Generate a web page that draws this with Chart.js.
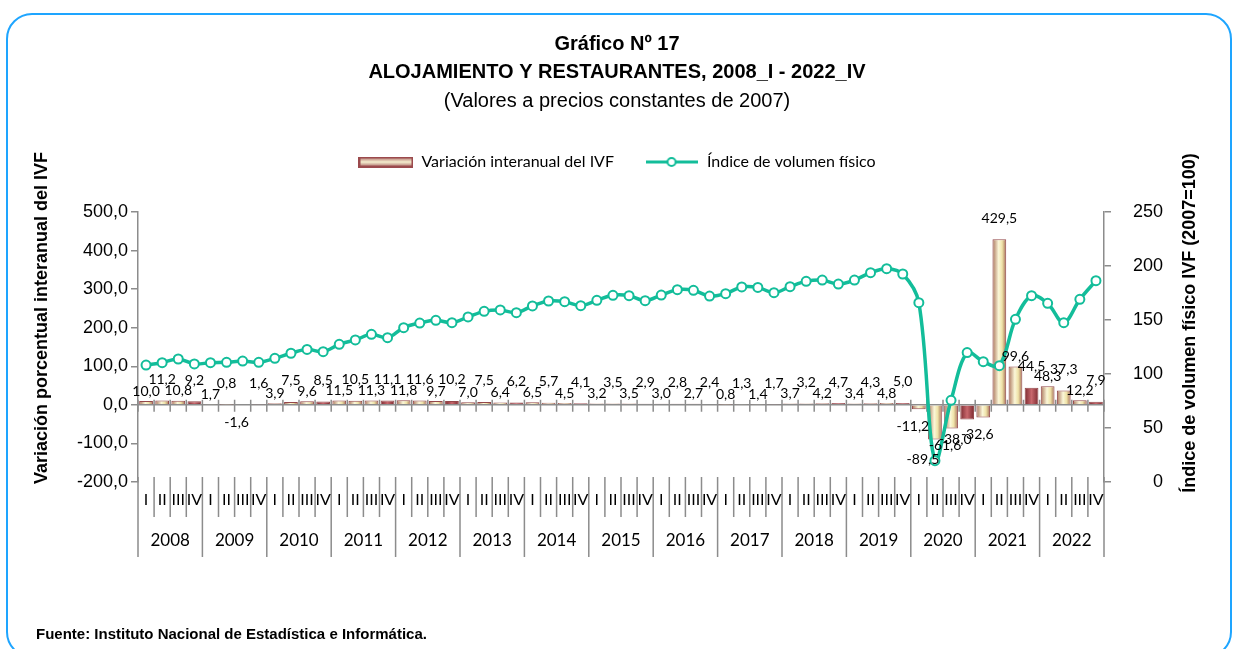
<!DOCTYPE html>
<html lang="es">
<head>
<meta charset="utf-8">
<title>Gráfico Nº 17</title>
<script src="https://cdn.jsdelivr.net/npm/chart.js@4.4.1/dist/chart.umd.min.js"></script>
<style>
  body { margin: 0; background: #fff; }
  #marco { position: relative; width: 1236px; height: 649px; overflow: hidden; }
  #grafico { position: absolute; left: 0; top: 0; }
  .borde {
    position: absolute; left: 6px; top: 13px; width: 1222px; height: 641px;
    border: 2px solid #1ea5ff; border-radius: 26px; pointer-events: none;
  }
  .fuente {
    position: absolute; left: 36px; top: 625px;
    font: bold 15px "Liberation Sans", Arial, sans-serif; color: #000;
  }
</style>
</head>
<body>
<div id="marco">
  <canvas id="grafico" width="1236" height="649"></canvas>
  <div class="borde"></div>
  <div class="fuente">Fuente: Instituto Nacional de Estadística e Informática.</div>
</div>
<script>
// Datos del gráfico
const anios = ['2008', '2009', '2010', '2011', '2012', '2013', '2014', '2015',
               '2016', '2017', '2018', '2019', '2020', '2021', '2022'];
const trimestres = ['I', 'II', 'III', 'IV'];

// Variación interanual del IVF (%)
const variacion = [
  10.0, 11.2, 10.8, 9.2,
  1.7, 0.8, -1.6, 1.6,
  3.9, 7.5, 9.6, 8.5,
  11.5, 10.5, 11.3, 11.1,
  11.8, 11.6, 9.7, 10.2,
  7.0, 7.5, 6.4, 6.2,
  6.5, 5.7, 4.5, 4.1,
  3.2, 3.5, 3.5, 2.9,
  3.0, 2.8, 2.7, 2.4,
  0.8, 1.3, 1.4, 1.7,
  3.7, 3.2, 4.2, 4.7,
  3.4, 4.3, 4.8, 5.0,
  -11.2, -89.5, -61.6, -38.0,
  -32.6, 429.5, 99.6, 44.5,
  48.3, 37.3, 12.2, 7.9
];

// Índice de volumen físico (2007=100)
const indice = [
  108.3, 110.5, 113.9, 109.3,
  110.5, 110.8, 112.0, 110.8,
  114.5, 119.2, 122.8, 120.7,
  127.5, 131.5, 136.7, 133.6,
  142.9, 147.2, 149.7, 147.5,
  152.8, 158.0, 159.3, 156.8,
  163.0, 167.6, 167.0, 163.3,
  168.2, 172.9, 172.5, 167.9,
  173.1, 178.1, 177.5, 172.2,
  174.4, 180.6, 180.2, 175.3,
  180.9, 185.8, 187.0, 183.3,
  187.0, 193.8, 197.5, 192.6,
  166.0, 19.7, 75.6, 119.8,
  111.4, 107.7, 150.6, 172.5,
  165.4, 147.5, 169.1, 186.4
];

const rotulos = anios.flatMap(a => trimestres.map(t => a + '_' + t));

const tituloIzq = 'Variación porcentual interanual del IVF';
const tituloDer = 'Índice de volumen físico IVF (2007=100)';

const verde = '#13bd9a';
const gris = '#8c8c8c';
const fuenteCalibri = 'Lato, "Open Sans", sans-serif';
const fuenteArial = '"Liberation Sans", Arial, sans-serif';

const coma = v => v.toFixed(1).replace('.', ',');

// Degradado horizontal de cada barra (los IV trimestres en rojo oscuro)
function rellenoBarra(context) {
  const chart = context.chart;
  const i = context.dataIndex;
  const oscura = i % 4 === 3;
  if (!chart.chartArea || i === undefined) return oscura ? '#a8454b' : '#eee2b0';
  const x = chart.scales.x;
  const centro = x.getPixelForValue(i);
  const ancho = (x.width / rotulos.length) * 0.9 * 0.95;
  const g = chart.ctx.createLinearGradient(centro - ancho / 2, 0, centro + ancho / 2, 0);
  if (oscura) {
    g.addColorStop(0, '#7c2a30');
    g.addColorStop(0.5, '#c8676c');
    g.addColorStop(1, '#7c2a30');
  } else {
    g.addColorStop(0, '#a9735a');
    g.addColorStop(0.45, '#fbf7d8');
    g.addColorStop(0.7, '#efe3a8');
    g.addColorStop(1, '#a36d55');
  }
  return g;
}

// Muestras de la leyenda
function muestraBarra() {
  const c = document.createElement('canvas');
  c.width = 55; c.height = 11;
  const x = c.getContext('2d');
  const g = x.createLinearGradient(0, 0, 0, 11);
  g.addColorStop(0, '#a0575a');
  g.addColorStop(0.5, '#f6efcf');
  g.addColorStop(1, '#a0575a');
  x.fillStyle = g;
  x.fillRect(0, 0, 55, 11);
  x.strokeStyle = '#9b4a4d';
  x.lineWidth = 2;
  x.strokeRect(1, 1, 53, 9);
  return c;
}

function muestraLinea() {
  const c = document.createElement('canvas');
  c.width = 52; c.height = 12;
  const x = c.getContext('2d');
  x.strokeStyle = verde;
  x.lineWidth = 3;
  x.beginPath(); x.moveTo(0, 6); x.lineTo(52, 6); x.stroke();
  x.beginPath(); x.arc(26, 6, 4, 0, Math.PI * 2);
  x.fillStyle = '#fff'; x.fill();
  x.lineWidth = 2; x.stroke();
  return c;
}

// Línea del cero, eje de categorías (trimestres y años) y títulos de ejes
const ejeCategorias = {
  id: 'ejeCategorias',
  beforeInit(chart) {
    const fit = chart.legend.fit;
    chart.legend.fit = function () {
      fit.bind(chart.legend)();
      this.height += 32;
    };
  },
  beforeDatasetsDraw(chart) {
    const { ctx, chartArea } = chart;
    const x = chart.scales.x;
    const y0 = chart.scales.y.getPixelForValue(0);
    const paso = x.width / rotulos.length;
    ctx.save();
    ctx.strokeStyle = gris;
    ctx.lineWidth = 1.5;
    ctx.beginPath();
    ctx.moveTo(chartArea.left, y0);
    ctx.lineTo(chartArea.right, y0);
    for (let i = 0; i <= rotulos.length; i++) {
      const px = x.left + i * paso;
      ctx.moveTo(px, y0 - 5);
      ctx.lineTo(px, y0 + 7);
    }
    ctx.stroke();
    ctx.restore();
  },
  afterDraw(chart) {
    const { ctx, chartArea } = chart;
    const x = chart.scales.x;
    const paso = x.width / rotulos.length;
    const arriba = chartArea.bottom - 5;
    const finTrim = chartArea.bottom + 35;
    const finAnio = chartArea.bottom + 75;
    ctx.save();
    ctx.strokeStyle = gris;
    ctx.lineWidth = 1.5;
    ctx.beginPath();
    for (let i = 0; i <= rotulos.length; i++) {
      const px = x.left + i * paso;
      ctx.moveTo(px, arriba);
      ctx.lineTo(px, i % 4 === 0 ? finAnio : finTrim);
    }
    ctx.moveTo(chartArea.left, chartArea.bottom);
    ctx.lineTo(chartArea.left, finAnio);
    ctx.moveTo(chartArea.right, chartArea.bottom);
    ctx.lineTo(chartArea.right, finAnio);
    ctx.stroke();

    ctx.fillStyle = '#000';
    ctx.textAlign = 'center';
    ctx.textBaseline = 'middle';
    ctx.font = '16px ' + fuenteCalibri;
    rotulos.forEach((r, i) => {
      ctx.fillText(trimestres[i % 4], x.getPixelForValue(i), chartArea.bottom + 18);
    });
    ctx.font = '17px ' + fuenteCalibri;
    anios.forEach((a, k) => {
      const cx = x.left + (k * 4 + 2) * paso;
      ctx.fillText(a, cx, chartArea.bottom + 59);
    });

    // títulos de los ejes, leídos de abajo hacia arriba
    ctx.font = 'bold 18px ' + fuenteArial;
    ctx.save();
    ctx.translate(42, 318);
    ctx.rotate(-Math.PI / 2);
    ctx.fillText(tituloIzq, 0, 0);
    ctx.restore();
    ctx.save();
    ctx.translate(1190, 323);
    ctx.rotate(-Math.PI / 2);
    ctx.fillText(tituloDer, 0, 0);
    ctx.restore();
    ctx.restore();
  }
};

// Etiquetas de valores sobre las barras (alternadas en altura)
const etiquetasBarras = {
  id: 'etiquetasBarras',
  afterDatasetsDraw(chart) {
    const ctx = chart.ctx;
    const meta = chart.getDatasetMeta(0);
    ctx.save();
    ctx.font = '14px ' + fuenteCalibri;
    ctx.fillStyle = '#000';
    ctx.textAlign = 'center';
    ctx.textBaseline = 'middle';
    meta.data.forEach((barra, i) => {
      const v = variacion[i];
      const alto = i % 2 === 1;
      let px = barra.x;
      let y;
      if (v >= 0) {
        y = barra.y - (alto ? 21 : 10);
      } else {
        y = barra.y + (alto ? 20 : 17);
        px += alto ? -12 : -6;
      }
      ctx.fillText(coma(v), px, y);
    });
    ctx.restore();
  }
};

const ctx = document.getElementById('grafico').getContext('2d');

const grafico = new Chart(ctx, {
  data: {
    labels: rotulos,
    datasets: [
      {
        type: 'bar',
        label: 'Variación interanual del IVF',
        data: variacion,
        yAxisID: 'y',
        backgroundColor: rellenoBarra,
        borderColor: '#94474a',
        borderWidth: 1,
        categoryPercentage: 0.9,
        barPercentage: 0.95,
        order: 2
      },
      {
        type: 'line',
        label: 'Índice de volumen físico',
        data: indice,
        yAxisID: 'y1',
        borderColor: verde,
        borderWidth: 3.5,
        tension: 0.35,
        pointRadius: 4.5,
        pointBorderWidth: 2,
        pointBackgroundColor: '#fff',
        pointBorderColor: verde,
        order: 1
      }
    ]
  },
  options: {
    responsive: false,
    animation: false,
    layout: { padding: { left: 30, right: 32, top: 0, bottom: 167 } },
    plugins: {
      title: {
        display: true,
        text: ['Gráfico Nº 17', 'ALOJAMIENTO Y RESTAURANTES, 2008_I - 2022_IV'],
        color: '#000',
        font: { family: fuenteArial, size: 20, weight: 'bold', lineHeight: 1.4 },
        padding: { top: 30, bottom: 1 }
      },
      subtitle: {
        display: true,
        text: '(Valores a precios constantes de 2007)',
        color: '#000',
        font: { family: fuenteArial, size: 20, lineHeight: 1.4 },
        padding: { top: 0, bottom: 9 }
      },
      legend: {
        position: 'top',
        labels: {
          color: '#000',
          font: { family: fuenteCalibri, size: 16 },
          usePointStyle: true,
          pointStyleWidth: 55,
          padding: 30,
          generateLabels: () => [
            { text: 'Variación interanual del IVF', pointStyle: muestraBarra(),
              fillStyle: '#f6efcf', strokeStyle: '#9b4a4d', lineWidth: 0, datasetIndex: 0, hidden: false },
            { text: 'Índice de volumen físico', pointStyle: muestraLinea(),
              fillStyle: '#fff', strokeStyle: verde, lineWidth: 0, datasetIndex: 1, hidden: false }
          ]
        }
      },
      tooltip: { enabled: false }
    },
    scales: {
      x: {
        type: 'category',
        display: false,
        offset: true
      },
      y: {
        position: 'left',
        min: -200,
        max: 500,
        afterFit: s => { s.width = 108; },
        ticks: {
          stepSize: 100,
          color: '#000',
          padding: 3,
          font: { family: fuenteArial, size: 18 },
          callback: v => coma(v)
        },
        grid: { drawOnChartArea: false, color: gris, tickLength: 7, lineWidth: 1.5 },
        border: { color: gris, width: 1.5 }
      },
      y1: {
        position: 'right',
        min: 0,
        max: 250,
        afterFit: s => { s.width = 100; },
        ticks: {
          stepSize: 50,
          color: '#000',
          padding: 22,
          font: { family: fuenteArial, size: 18 },
          // espacios de cifra para alinear a la derecha
          callback: v => String(v).padStart(3, '\u2007')
        },
        grid: { drawOnChartArea: false, color: gris, tickLength: 7, lineWidth: 1.5 },
        border: { color: gris, width: 1.5 }
      }
    }
  },
  plugins: [ejeCategorias, etiquetasBarras]
});
</script>
</body>
</html>
